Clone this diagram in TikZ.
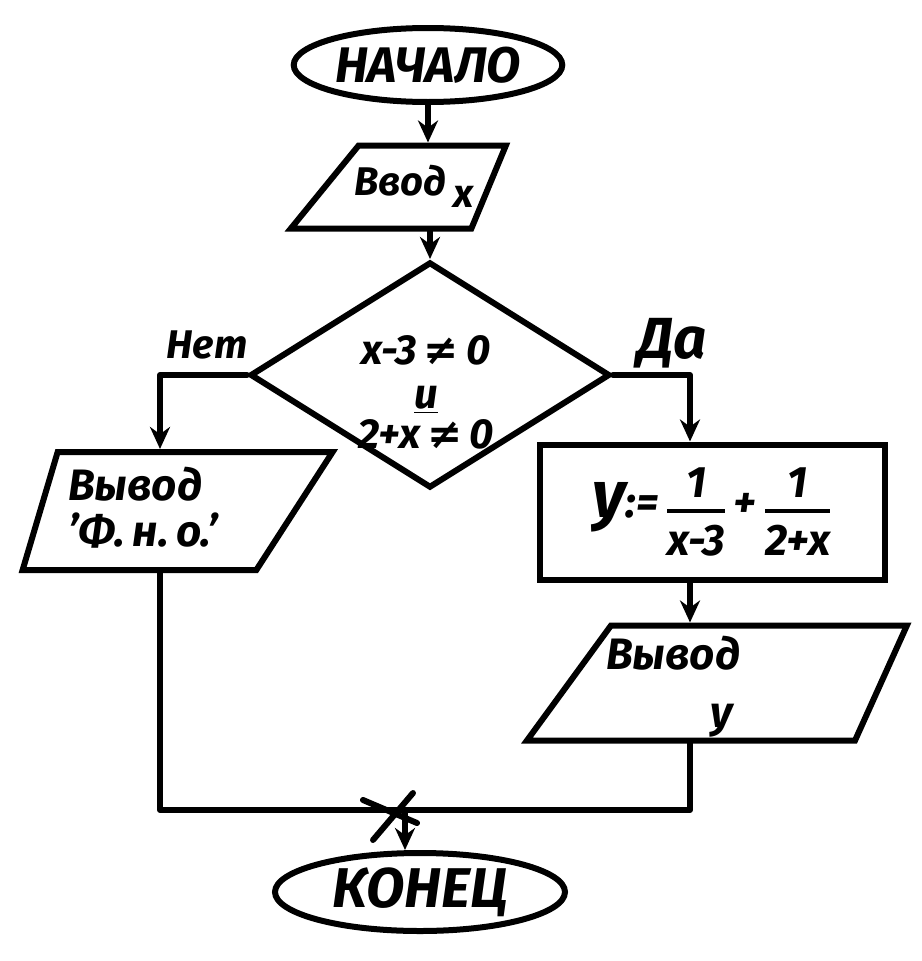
\documentclass[tikz,border=0pt]{standalone}
\usepackage{amsmath}
\usepackage{fontspec}
\setmainfont{Fira Sans}
\newfontfamily\symfont{DejaVu Sans}
\usetikzlibrary{shapes.geometric,arrows.meta,calc}
% fraction with a heavy bar, set in the current text font
\newcommand\hfr[2]{\ensuremath{\genfrac{}{}{4pt}{0}{\text{#1}}{\text{#2}}}}
\newcommand\neqsym{{\symfont\bfseries ≠}}
% bold slanted lettering: size, baseline skip
\newcommand\hand[2]{\fontsize{#1}{#2}\selectfont\bfseries\itshape}
\begin{document}
\begin{tikzpicture}[x=1pt,y=-1pt,
  ln/.style={line width=6pt,line cap=round,line join=round},
  arr/.style={ln,-{Stealth[length=22pt,width=20pt]}},
  shp/.style={draw,line width=6pt,inner sep=2pt,font=\bfseries\itshape},
  term/.style={shp,ellipse},
  io/.style={shp,trapezium,trapezium stretches=true},
  proc/.style={shp,rectangle},
  cond/.style={shp,diamond},
  txt/.style={inner sep=0pt}]
\fill[white] (0,0) rectangle (921,961);
\useasboundingbox (0,0) rectangle (921,961);

% blocks
\node[term,minimum width=232pt,minimum height=74pt,font=\hand{50}{56}] (start) at (428,65) {НАЧАЛО};

\node[io,trapezium left angle=59,trapezium right angle=107,
      minimum width=215pt,minimum height=83pt] (in) at (415,187) {};
\node[txt,font=\hand{40}{46}] (intxt) at (414,186) {Ввод\,\raisebox{-0.3em}{x}};

\node[cond,minimum width=360pt,minimum height=226pt] (dec) at (430,375) {};
\node[txt,align=center,font=\hand{42}{44}] (dectxt) at (426,392)
      {x-3\,\neqsym\,0\\\underline{и}\\[-4pt]2+x\,\neqsym\,0};
\node[txt,font=\hand{40}{44}] (lno) at (207,345) {Нет};
\node[txt,font=\hand{58}{62}] (lyes) at (672,343) {Да};

\node[io,trapezium left angle=80,trapezium right angle=111,
      minimum width=310pt,minimum height=118pt] (no) at (157,511) {};
\node[txt,anchor=west,align=left,font=\hand{44}{46}] (notxt) at (68,508)
      {Вывод\\'Ф.\,н.\,о.'};

\node[proc,minimum width=345pt,minimum height=135pt,font=\hand{44}{48}] (calc) at (712,512)
      {{\hand{66}{70}y}:=\,\hfr{1}{x-3}\,+\,\hfr{1}{2+x}};

\node[io,trapezium left angle=71,trapezium right angle=102,
      minimum width=380pt,minimum height=115pt] (out) at (733,683) {};
\node[txt,anchor=west,align=left,font=\hand{44}{58}] (outtxt) at (606,687)
      {Вывод\\\hspace{104pt}y};

\node[term,minimum width=290pt,minimum height=78pt,font=\hand{56}{60}] (end) at (420,892) {КОНЕЦ};

% flow lines
\coordinate (j) at (405,810);
\draw[arr] (start.south) -- (start.south |- in.north);
\draw[arr] (in.south -| dec.north) -- (dec.north);
\draw[arr] (dec.west) -| ([xshift=3pt]no.north);
\draw[arr] (dec.east) -| ([xshift=-22pt]calc.north);
\draw[arr] ([xshift=-22pt]calc.south) -- ([xshift=-22pt]calc.south |- out.north);
\draw[ln] ([xshift=3pt]no.south) |- (j);
\draw[ln] ([xshift=-43pt]out.south) |- (j);
\draw[ln] ($(j)+(-42,-10)$) -- ($(j)+(12,13)$);
\draw[ln] ($(j)+(8,-17)$) -- ($(j)+(-32,30)$);
\draw[arr] (j) -- (j |- end.north);
\end{tikzpicture}
\end{document}
